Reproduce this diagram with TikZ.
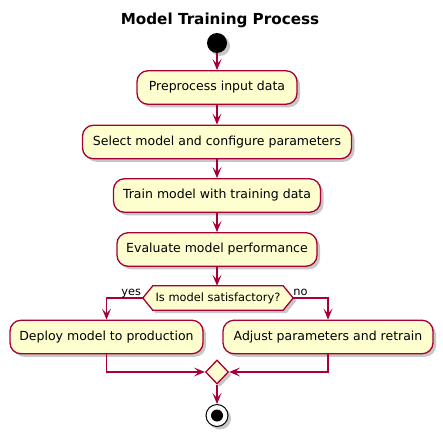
\documentclass[tikz,border=0pt]{standalone}
\usepackage{fontspec}
\setmainfont{DejaVu Sans}
\usetikzlibrary{arrows.meta,shapes.geometric,shadows,backgrounds}
\definecolor{pfill}{HTML}{FEFECE}
\definecolor{pline}{HTML}{A80036}
\begin{document}
\begin{tikzpicture}[x=1pt,y=-1pt,
  shad/.style={drop shadow={shadow xshift=3pt,shadow yshift=-3pt,opacity=0.22,fill=black}},
  act/.style={draw=pline,fill=pfill,line width=1.3pt,rounded corners=11pt,minimum height=33.5pt,inner sep=0pt,font=\fontsize{12.5}{14}\selectfont,shad},
  flow/.style={draw=pline,line width=1.3pt,-{Stealth[length=11pt,width=9pt,inset=5pt]}},
  lbl/.style={font=\fontsize{11.4}{13}\selectfont,inner sep=0pt},
  dectext/.style={minimum width=150pt,minimum height=24pt,inner sep=0pt,font=\fontsize{11.4}{13}\selectfont},
  hexshape/.style={draw=pline,fill=pfill,line width=1.3pt,shad},
  merge/.style={diamond,draw=pline,fill=pfill,line width=1.3pt,minimum width=23pt,minimum height=24pt,inner sep=0pt,shad},
  startdot/.style={circle,fill=black,minimum size=20pt,inner sep=0pt,shad},
  enddot/.style={circle,draw=black,fill=white,line width=1pt,minimum size=22pt,inner sep=0pt,shad},
  titlestyle/.style={font=\fontsize{15.2}{18}\selectfont\bfseries,inner sep=0pt}
]
\useasboundingbox (0,0) rectangle (443,436);
\node[titlestyle] (title) at (220,20) {Model Training Process};
\node[startdot] (start) at (217,43) {};
\node[act,minimum width=160pt] (b1) at (217,87.5) {Preprocess input data};
\node[act,minimum width=269pt] (b2) at (217,142) {Select model and configure parameters};
\node[act,minimum width=207pt] (b3) at (217,195.5) {Train model with training data};
\node[act,minimum width=200pt] (b4) at (217,249.5) {Evaluate model performance};
\node[dectext] (dec) at (218,298) {Is model satisfactory?};
\begin{scope}[on background layer]
  \fill[white] (0,0) rectangle (443,436);
  \path[hexshape] (dec.west) -- ([xshift=10pt]dec.north west) -- ([xshift=-10pt]dec.north east) -- (dec.east) -- ([xshift=-10pt]dec.south east) -- ([xshift=10pt]dec.south west) -- cycle;
\end{scope}
\node[act,minimum width=193pt] (b5) at (106.5,337) {Deploy model to production};
\node[act,minimum width=210pt] (b6) at (328,337) {Adjust parameters and retrain};
\node[merge] (mg) at (217,372) {};
\node[enddot] (end) at (217,415.5) {};
\fill[black] (end.center) circle (6pt);
\draw[flow] (start) -- (b1);
\draw[flow] (b1) -- (b2);
\draw[flow] (b2) -- (b3);
\draw[flow] (b3) -- (b4);
\draw[flow] (b4) -- (b4 |- dec.north);
\draw[flow] (dec.west) -| (b5.north);
\draw[flow] (dec.east) -| (b6.north);
\node[lbl,anchor=base east] (yes) at ([xshift=-1.5pt,yshift=3pt]dec.west) {yes};
\node[lbl,anchor=base west] (no) at ([xshift=0pt,yshift=3pt]dec.east) {no};
\draw[flow] (b5.south) |- (mg.west);
\draw[flow] (b6.south) |- (mg.east);
\draw[flow] (mg) -- (end);
\end{tikzpicture}
\end{document}
